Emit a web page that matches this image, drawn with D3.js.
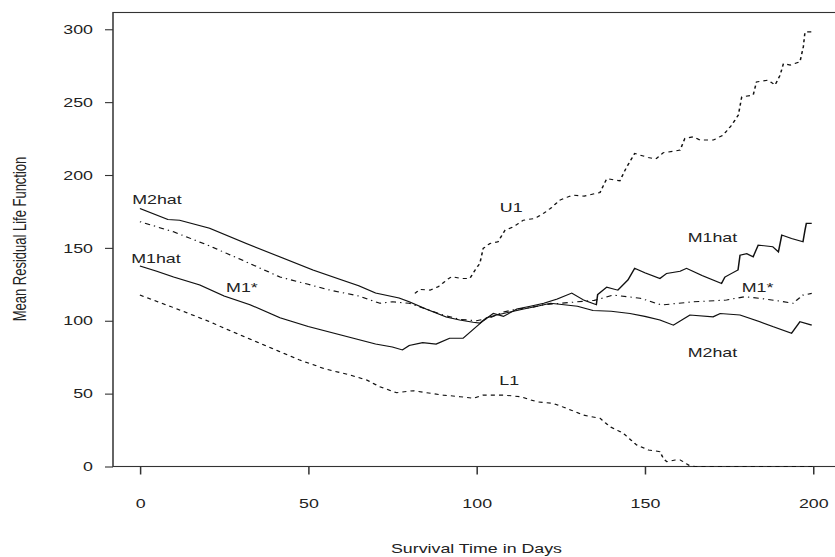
<!DOCTYPE html>
<html>
<head>
<meta charset="utf-8">
<script src="https://cdn.jsdelivr.net/npm/d3@7"></script>
<style>
  html, body { margin: 0; padding: 0; background: #fff; }
  svg { display: block; }
  text { font-family: "Liberation Sans", Arial, sans-serif; fill: #222; }
</style>
</head>
<body>
<svg id="chart" width="835" height="557"></svg>
<script>
// dados: [dia, valor]
const m2hat = [[0,177],[8.3,169.5],[11.8,169],[20.7,163.4],[31.6,153],[41.5,143.9],[51.4,134.8],[60,128],
  [65,124],[70,119],[77,115.6],[80,113],[85,108],[91,102.6],[95,100.5],[99,99],[101,98.4],[103,102],
  [106,104],[110,106],[114,108],[118,110],[122,112],[126,111],[130,110],[134.6,107],[140,106.5],
  [145.6,105],[150,103],[154.5,100.5],[158.5,97],[163.4,103.9],[170.3,102.7],[172.4,105],[178.3,104],
  [184.2,99.3],[188,96],[193.6,91.4],[196.1,99.3],[199.6,97]];

const m1hat = [[0,137.5],[5,134],[10,130],[17.8,124.5],[25,117],[32.7,111],[41.6,102],[50,96],[60,90],
  [70,84],[75,82],[78,80],[80,83],[84,85],[88,84],[92,88],[96,88],[99,94],[102,100],[105,105],[108,103],
  [112,108],[116,110],[120,112],[124,115],[128.3,119],[132,114],[135.6,111],[136,118],[138.7,123],
  [142,121],[145,128],[147,136],[150,133],[154.5,129],[156.5,132.5],[160.5,134],[162.4,136],[167,131],
  [172.8,125.6],[173.8,130],[175.8,132.5],[177.7,134.8],[178.3,145],[180.3,146],[182.2,143.9],
  [183.7,151.9],[188,150.8],[189.7,147.3],[190.7,158.8],[193.6,156.5],[197,154.2],[197.6,162.2],
  [198,166.8],[199.6,166.8]];

const m1star = [[0,168],[10,161],[20,152],[30,142],[41.6,130],[50,125],[56.5,121],[65,117],[71.3,112],
  [75,113],[80,112],[85,108],[90,104],[95,101],[100,100],[104,102],[108,106],[112,108],[116,109],
  [120,111],[125,112],[130,113],[135,114],[140.6,117.6],[148.6,115.5],[155,110.8],[160,112],
  [164.4,113],[174.3,114.2],[179.7,116.5],[184.2,115.4],[190,113.5],[194,112],[197,117.6],[199.6,118.8]];

const u1 = [[81.7,118.8],[83.2,121.5],[86.2,121],[88.6,123.3],[91.1,127.9],[92.6,130.2],[95.6,129],
  [98,129],[99.6,134.8],[101,139.4],[102,149.7],[104,153],[106.4,154.2],[108.5,162.2],[111,164.5],
  [113.9,169],[117.4,170.2],[119.9,173.7],[122,177.1],[124.8,182.8],[128.5,186.2],[132,185.5],
  [136.7,188],[138.7,197.5],[142.6,196],[144.4,204.5],[147,214.8],[151,212],[153.3,211],[155.5,215.3],
  [159,216.5],[160.5,217.1],[161.9,225.1],[164.4,226.2],[166.4,224],[170.4,224],[173.3,227.4],
  [175.8,234.2],[177.8,241.1],[178.8,253.6],[182.2,254.8],[183.2,263.9],[186.7,265.1],[188.7,261.7],
  [190.2,268.5],[191.2,276.5],[193.2,275.4],[196.1,277.6],[197.1,287.9],[197.6,298.2],[199.6,298.2]];

const l1 = [[0,117.6],[10,109],[20,100],[30,90],[41.6,78.7],[47.5,73],[55,67],[62.4,62.8],[67.4,59.3],
  [71.3,54.7],[76.3,50.6],[81.2,52],[85.2,50.6],[90.1,49],[95.1,47.9],[99,46.8],[102,49],[108,49],
  [113,47.9],[118,44.4],[122.8,43.3],[126.8,39.9],[131.7,35.3],[136.7,33.1],[139.7,27.3],[143.6,22.8],
  [147.6,14.7],[151.1,11.3],[154.5,10.2],[155.5,5.6],[156.5,3.3],[159,4.5],[160.5,4.5],[163.4,0.5],
  [165,0],[200,0]];

const etiquetas = [
  { t: 'M2hat', d: 5.05, v: 183.5 },
  { t: 'M1hat', d: 4.75, v: 143 },
  { t: 'M1*', d: 30.3, v: 123.1 },
  { t: 'U1', d: 110.3, v: 178 },
  { t: 'L1', d: 109.7, v: 59.3 },
  { t: 'M1hat', d: 170.1, v: 157.4 },
  { t: 'M1*', d: 183.5, v: 123.1 },
  { t: 'M2hat', d: 170.1, v: 78.5 }
];

const xTicks = [0, 50, 100, 150, 200];
const yTicks = [0, 50, 100, 150, 200, 250, 300];

// a imagem original está esticada na horizontal
const k = 1.37;
const W = 835 / k, H = 557;

const svg = d3.select('#chart')
  .attr('viewBox', `0 0 ${W} ${H}`)
  .attr('preserveAspectRatio', 'none');

const x = d3.scaleLinear().domain([-8, 208]).range([113 / k, 840 / k]);
const y = d3.scaleLinear().domain([0, 311.5]).range([466.5, 12.5]);

// Eixos
const eixoY = svg.append('g')
  .attr('transform', `translate(${x(-8)},0)`)
  .call(d3.axisLeft(y).tickValues(yTicks).tickSize(8 / k).tickPadding(8.8));
eixoY.select('.domain').remove();
eixoY.selectAll('line').attr('stroke', '#333').attr('stroke-width', 1.1);
eixoY.selectAll('text').style('font-size', '13px');

const eixoX = svg.append('g')
  .attr('transform', `translate(0,${y(0)})`)
  .call(d3.axisBottom(x).tickValues(xTicks).tickSize(8).tickPadding(24.5));
eixoX.select('.domain').remove();
eixoX.selectAll('line').attr('stroke', '#333').attr('stroke-width', 1.1);
eixoX.selectAll('text').style('font-size', '13px');

// Moldura (o lado direito fica fora da imagem)
svg.append('rect')
  .attr('x', x(-8)).attr('y', y(311.5))
  .attr('width', x(215) - x(-8)).attr('height', y(0) - y(311.5))
  .attr('fill', 'none').attr('stroke', '#333').attr('stroke-width', 1.1);

// Linhas
const linha = d3.line().x(d => x(d[0])).y(d => y(d[1]));
const series = [
  { dados: m2hat, dash: null },
  { dados: m1hat, dash: null },
  { dados: m1star, dash: '1,3,4,3' },
  { dados: u1, dash: '3,3' },
  { dados: l1, dash: '3,3' }
];
svg.append('g').selectAll('path')
  .data(series)
  .join('path')
    .attr('d', s => linha(s.dados))
    .attr('fill', 'none')
    .attr('stroke', '#111')
    .attr('stroke-width', 1.1)
    .attr('stroke-dasharray', s => s.dash);

// Rótulos
svg.append('g').selectAll('text')
  .data(etiquetas)
  .join('text')
    .attr('x', d => x(d.d))
    .attr('y', d => y(d.v))
    .attr('text-anchor', 'middle')
    .attr('dominant-baseline', 'central')
    .style('font-size', '13px')
    .text(d => d.t);

// Títulos dos eixos
svg.append('text')
  .attr('x', 476.5 / k)
  .attr('y', 553)
  .attr('text-anchor', 'middle')
  .style('font-size', '13px')
  .text('Survival Time in Days');

svg.append('text')
  .attr('transform', `translate(${19.5 / k},239) rotate(-90)`)
  .attr('text-anchor', 'middle')
  .attr('dominant-baseline', 'central')
  .style('font-size', '13px')
  .text('Mean Residual Life Function');
</script>
</body>
</html>
